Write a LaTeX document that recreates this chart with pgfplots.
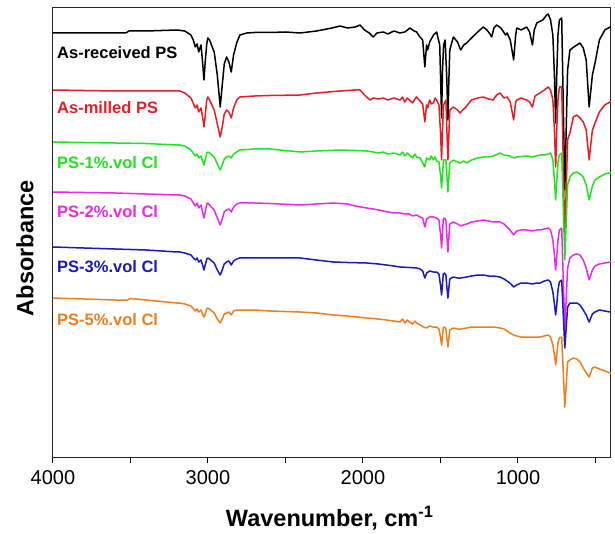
\documentclass[border=0pt]{standalone}
\usepackage{fontspec}
\setmainfont{Liberation Sans}
\usepackage{pgfplots}
\pgfplotsset{compat=1.18}
\definecolor{psred}{RGB}{230,30,35}
\definecolor{psgreen}{RGB}{30,230,30}
\definecolor{psmag}{RGB}{235,40,235}
\definecolor{psblue}{RGB}{25,25,190}
\definecolor{psorange}{RGB}{240,125,30}
\begin{document}
\begin{tikzpicture}
\useasboundingbox (0,0) rectangle (615pt,533pt);
\begin{axis}[
  at={(53pt,76pt)}, anchor=south west,
  width=558pt, height=449pt, scale only axis,
  x dir=reverse,
  xmin=400, xmax=4000, ymin=-457, ymax=-8,
  y filter/.expression={-y},
  xtick={500,1000,1500,2000,2500,3000,3500,4000},
  xticklabels={,1000,,2000,,3000,,4000},
  ytick=\empty,
  xtick pos=bottom,
  tick align=outside,
  major tick length=6pt,
  tick style={line width=1pt, black},
  axis line style={line width=1pt, black!85},
  xticklabel style={font=\fontsize{20}{24}\selectfont, yshift=-4pt},
  xlabel={\bfseries Wavenumber, cm\textsuperscript{-1}},
  ylabel={\bfseries Absorbance},
  label style={font=\fontsize{23.5}{28}\selectfont},
  xlabel style={at={(axis description cs:0.496,-0.136)}, anchor=center},
  ylabel style={at={(axis description cs:-0.050,0.465)}, anchor=center},
  every axis plot/.append style={line width=1.5pt, mark=none, line join=round},
  clip=true,
]
% values are pixel depths below the top of the frame; the filter turns them downwards
% As-received PS
\addplot[black] coordinates {
(4000,33) (3800,33) (3600,33) (3530,33) (3510,31) (3400,31) (3300,30.5) (3200,30) (3150,31) (3110,35) (3095,40)
(3082,47) (3070,44) (3060,52) (3045,45) (3035,62) (3026,80) (3018,62) (3008,44) (3001,38) (2990,40) (2960,52)
(2940,75) (2921,107) (2908,85) (2895,64) (2880,57) (2865,62) (2850,72) (2835,55) (2815,43) (2794,35) (2750,33)
(2700,32.5) (2600,32.5) (2500,32) (2406,33) (2300,31) (2200,28) (2148,26) (2100,28) (2050,27) (2019,25) (1990,30)
(1960,33) (1934,37) (1910,33) (1869,32) (1840,34) (1800,31) (1761,33) (1730,32) (1697,28) (1670,31) (1654,32)
(1632,37) (1615,40) (1601,67) (1590,45) (1583,50) (1570,42) (1545,35) (1525,32) (1505,45) (1499,80) (1493,118)
(1487,70) (1480,45) (1470,40) (1459,80) (1452,120) (1446,80) (1440,50) (1417,37) (1390,42) (1370,50) (1350,45)
(1331,43) (1300,38) (1260,32) (1224,27) (1200,30) (1181,34) (1170,37) (1155,28) (1138,25) (1110,28) (1080,35)
(1070,33) (1050,40) (1028,60) (1015,35) (1008,28) (980,30) (944,27) (925,32) (907,45) (895,30) (879,23) (840,20)
(815,15) (805,14) (790,20) (775,35) (765,75) (757,123) (750,75) (742,35) (733,20) (718,18) (698,190) (680,70)
(665,50) (640,47) (600,43) (579,48) (560,60) (541,107) (520,75) (503,63) (475,40) (440,30) (406,27) (400,27)};
% As-milled PS
\addplot[psred] coordinates {
(4000,90) (3800,90.5) (3600,91) (3400,91) (3200,91) (3181,91) (3150,93) (3110,98) (3082,108) (3070,105) (3060,112)
(3045,108) (3035,117) (3026,127) (3018,116) (3008,100) (3001,97) (2990,100) (2960,110) (2940,124) (2921,137)
(2908,127) (2895,114) (2880,110) (2865,112) (2850,118) (2835,108) (2815,100) (2794,97) (2700,96) (2600,95.5)
(2406,95) (2300,93) (2148,91) (2050,90) (2019,90) (1990,95) (1955,100) (1934,98) (1900,99) (1869,98) (1840,100)
(1800,98) (1761,100) (1745,97) (1730,102) (1715,98) (1700,100) (1680,103) (1665,99) (1654,97) (1632,101) (1615,104)
(1601,122) (1590,105) (1583,108) (1570,100) (1560,104) (1545,103) (1535,98) (1525,100) (1510,105) (1500,132)
(1493,160) (1487,130) (1480,105) (1465,100) (1459,130) (1452,160) (1446,135) (1440,110) (1417,107) (1390,110)
(1374,113) (1350,109) (1331,106) (1300,100) (1260,98) (1224,97) (1190,99) (1159,100) (1138,95) (1116,93) (1090,98)
(1070,97) (1050,102) (1028,120) (1015,102) (1008,100) (980,98) (944,100) (925,102) (907,107) (890,96) (858,93)
(830,90) (805,87) (790,90) (775,100) (765,130) (757,167) (750,130) (742,100) (733,87) (718,87) (698,240) (680,140)
(665,133) (643,117) (620,115) (600,118) (579,122) (560,130) (541,160) (520,130) (503,123) (475,112) (440,105)
(406,102) (400,101)};
% PS-1%.vol Cl
\addplot[psgreen] coordinates {
(4000,142) (3800,142.5) (3600,143) (3400,143.5) (3200,145) (3181,145) (3150,146) (3110,150) (3082,156) (3070,154)
(3060,158) (3045,156) (3035,161) (3026,165) (3018,160) (3008,153) (3001,152) (2990,153) (2960,157) (2940,164)
(2921,170) (2908,165) (2895,159) (2880,157) (2865,156) (2850,158) (2835,154) (2815,152) (2794,150) (2700,149)
(2600,149) (2406,152) (2300,151) (2148,150) (2050,150.5) (1976,151) (1934,152) (1900,153) (1869,152) (1840,154)
(1800,153) (1761,155) (1745,152) (1730,156) (1715,153) (1700,155) (1680,158) (1665,154) (1654,157) (1632,158)
(1601,167) (1590,158) (1570,160) (1560,156) (1546,160) (1535,157) (1525,161) (1510,162) (1500,175) (1493,188)
(1487,174) (1480,160) (1465,160) (1459,176) (1452,192) (1446,177) (1440,163) (1417,160) (1390,162) (1374,163)
(1350,161) (1331,163) (1300,160) (1260,158) (1224,157) (1190,157) (1159,156) (1116,153) (1090,155) (1052,156)
(1028,158) (1008,157) (944,156) (907,157) (858,155) (830,155) (805,154) (790,153) (775,160) (765,180) (757,200)
(750,182) (742,162) (733,155) (718,153) (698,260) (680,185) (665,177) (643,173) (620,172) (600,174) (579,177)
(560,185) (541,200) (520,186) (503,180) (475,177) (440,174) (406,173) (400,173)};
% PS-2%.vol Cl
\addplot[psmag] coordinates {
(4000,192) (3800,192.5) (3600,193) (3400,194) (3200,195) (3181,195) (3150,196) (3110,199) (3082,206) (3070,203)
(3060,208) (3045,205) (3035,212) (3026,218) (3018,212) (3008,204) (3001,203) (2990,205) (2960,210) (2940,218)
(2921,225) (2908,219) (2895,212) (2880,210) (2865,209) (2850,212) (2835,207) (2815,204) (2794,203) (2700,203)
(2600,203.5) (2406,205) (2300,204) (2192,203) (2148,203.5) (2100,204) (2050,206) (1976,208) (1934,209) (1900,210)
(1869,211) (1840,212) (1800,213) (1761,213) (1730,214) (1700,214) (1680,216) (1654,215) (1632,217) (1615,218)
(1601,227) (1589,219) (1570,217) (1546,217) (1525,218) (1510,220) (1500,234) (1493,248) (1487,233) (1482,219)
(1475,218) (1465,220) (1459,236) (1452,252) (1446,238) (1440,224) (1417,222) (1390,224) (1370,226) (1353,225)
(1331,224) (1300,222) (1260,221) (1224,220) (1190,221) (1159,222) (1116,222) (1090,224) (1052,230) (1028,235)
(1008,231) (980,230) (944,230) (907,231) (880,230) (858,230) (830,229) (805,228) (790,230) (775,240) (765,255)
(757,270) (750,257) (742,240) (733,230) (718,228) (698,330) (680,268) (665,258) (643,255) (620,254) (600,255)
(579,260) (560,268) (541,280) (520,270) (503,266) (475,264) (440,263) (406,262) (400,262)};
% PS-3%.vol Cl
\addplot[psblue] coordinates {
(4000,247) (3800,248) (3600,249) (3400,250) (3200,252) (3181,252) (3150,253) (3110,255) (3082,260) (3070,258)
(3060,262) (3045,260) (3035,265) (3026,270) (3018,265) (3008,259) (3001,258) (2990,259) (2960,263) (2940,270)
(2921,275) (2908,270) (2895,264) (2880,262) (2865,261) (2850,265) (2835,261) (2815,259) (2794,258) (2700,258)
(2600,258) (2406,258) (2300,260) (2192,262) (2100,262.5) (1976,263) (1900,264) (1800,266) (1761,267) (1700,267.5)
(1654,268) (1632,269) (1615,271) (1601,278) (1589,273) (1570,271) (1546,272) (1525,272) (1510,274) (1500,285)
(1493,295) (1487,284) (1482,274) (1475,273) (1465,275) (1459,287) (1452,298) (1446,288) (1440,279) (1417,277)
(1390,278) (1370,278) (1331,277) (1300,276) (1260,275) (1224,275) (1190,276) (1159,276) (1116,277) (1090,279)
(1052,283) (1028,287) (1008,285) (980,283) (944,283) (907,284) (880,283) (858,283) (830,281) (805,280) (790,282)
(775,292) (765,304) (757,315) (750,305) (742,290) (733,282) (718,280) (698,348) (680,307) (665,303) (643,303)
(620,303) (600,305) (579,310) (560,315) (541,322) (520,314) (503,312) (475,310) (440,311) (406,312) (400,312)};
% PS-5%.vol Cl
\addplot[psorange] coordinates {
(4000,298) (3800,299) (3600,300) (3520,300) (3500,298.5) (3400,300) (3200,303) (3181,303) (3150,304) (3110,306)
(3082,311) (3070,309) (3060,312) (3045,310) (3035,314) (3026,317) (3018,314) (3008,309) (3001,308) (2990,309)
(2960,313) (2940,319) (2921,323) (2908,319) (2895,314) (2880,313) (2865,312) (2850,315) (2835,311) (2815,310)
(2794,310) (2700,310) (2600,311) (2406,312) (2300,313) (2192,315) (2100,316) (1976,318) (1900,319) (1800,321)
(1761,322) (1745,319) (1730,323) (1715,320) (1700,322) (1680,324) (1665,321) (1654,323) (1632,325) (1610,327)
(1589,328) (1570,326) (1546,327) (1525,327) (1510,329) (1500,337) (1493,345) (1487,336) (1482,328) (1475,327)
(1465,329) (1459,338) (1452,347) (1446,338) (1440,330) (1417,328) (1390,329) (1370,329) (1331,328) (1300,327)
(1260,327) (1224,327) (1190,327) (1159,327) (1116,328) (1090,329) (1052,333) (1028,335) (1008,336) (980,337)
(944,337) (907,337) (880,337) (858,337) (830,336) (805,335) (790,337) (775,345) (765,355) (757,365) (750,355)
(742,343) (733,338) (718,337) (698,407) (680,362) (665,360) (643,358) (620,359) (600,362) (579,368) (560,373)
(541,377) (520,368) (503,367) (475,369) (440,371) (406,373) (400,373)};
\begin{scope}[every node/.style={anchor=west, font=\fontsize{16.5}{19}\selectfont\bfseries, inner sep=0pt}]
\node[black] at (axis cs:3974,-53) {As-received PS};
\node[psred] at (axis cs:3974,-108) {As-milled PS};
\node[psgreen] at (axis cs:3974,-163) {PS-1\%.vol Cl};
\node[psmag] at (axis cs:3974,-212) {PS-2\%.vol Cl};
\node[psblue] at (axis cs:3974,-267) {PS-3\%.vol Cl};
\node[psorange] at (axis cs:3974,-320) {PS-5\%.vol Cl};
\end{scope}
\end{axis}
\end{tikzpicture}
\end{document}
